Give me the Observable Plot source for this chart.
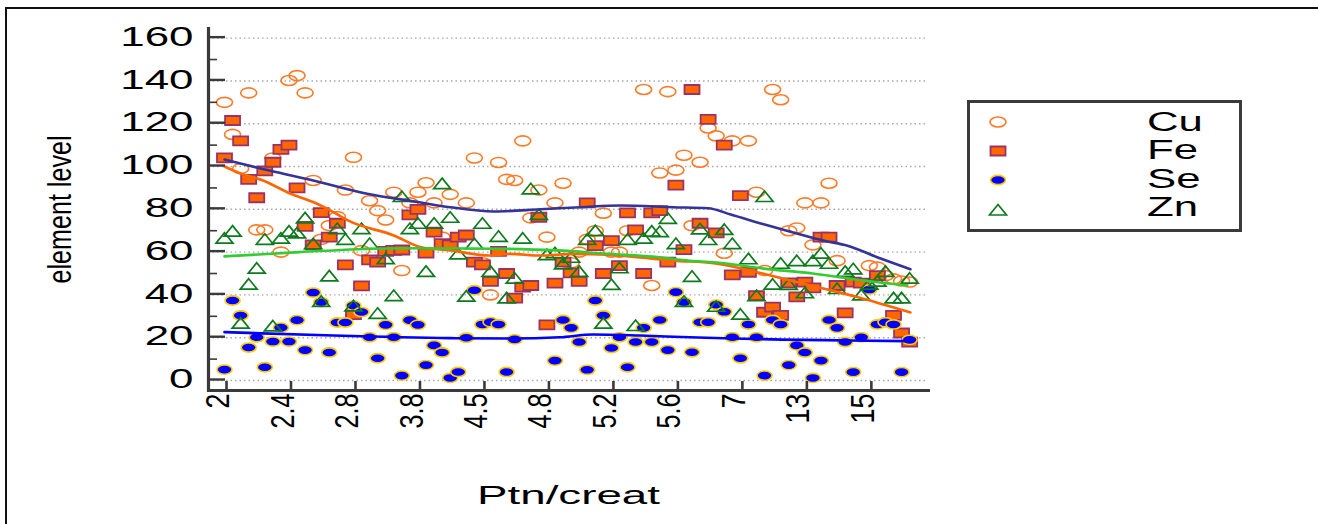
<!DOCTYPE html>
<html><head><meta charset="utf-8">
<script src="https://cdn.jsdelivr.net/npm/d3@7"></script>
<script src="https://cdn.jsdelivr.net/npm/@observablehq/plot@0.6"></script>
<style>
html,body{margin:0;background:#fff;overflow:hidden}
#wrap{position:relative;width:1318px;height:524px;font-family:"Liberation Sans",Arial,sans-serif}
#frame{position:absolute;left:5px;top:7px;width:1320px;height:530px;border:2px solid #111;box-sizing:border-box}
#legend{position:absolute;left:967px;top:100px;width:275px;height:132px;border:3.5px solid #3a3a3a;box-sizing:border-box;background:#fff}
#legend svg{position:absolute;left:0;top:0}
#legend div{position:absolute;left:177px;font-size:27px;line-height:30px;transform:scaleX(1.62);transform-origin:left center;color:#000}
svg{overflow:visible}
</style></head><body><div id="wrap"><div id="frame"></div><div id="chart" style="position:absolute;left:0;top:0"></div>
<div id="legend"></div></div>
<script>
const xTickPos=[0.25,8.25,16.25,24.25,32.25,40.25,48.25,56.25,64.25,72.25,80.25];
const xTickLabels=["2","2.4","2.8","3.8","4.5","4.8","5.2","5.6","7","13","15"];
const yMajor=[0,20,40,60,80,100,120,140,160];
const yMinor=[10,30,50,70,90,110,130,150];

const cuI=[0,1,2,3,4,5,6,7,8,9,10,11,12,13,14,15,16,17,18,19,20,21,22,23,24,25,26,27,28,30,31,32,33,34,35,36,37,38,39,40,41,42,43,44,45,46,47,48,49,50,52,53,54,55,56,57,58,59,60,61,62,63,65,66,67,68,69,70,71,72,73,74,75,76,80,81,82,83,84,85];
const cuV=[130,115,99,134.4,70.4,70.4,104,60,140.2,142.5,134.4,93.5,66,72.4,76.6,89,104.3,60.7,84,79.4,75,88,51.4,83,88,92.4,83,67,87,83,104,55,40,101.9,94,93.5,112,76,89,67,83,92.2,55,60,66,70,78.2,60,60,70,136,44.4,97,135,98.3,105.3,72.4,102,118,114.3,59.5,112,112,88,51.4,136,131.2,70,71.3,83,63.4,83,92.2,56,53.7,53,49,47.5,46.5,46];

const feI=[0,1,2,3,4,5,6,7,8,9,10,11,12,13,14,15,16,17,18,19,20,21,22,23,24,25,26,27,28,29,30,31,32,33,34,35,36,37,38,39,40,41,42,43,44,45,46,47,48,49,50,51,52,53,54,55,56,57,58,59,60,61,62,63,64,65,66,67,68,69,70,71,72,73,74,75,76,77,78,79,81,83,84,85];
const feV=[104,121.5,112,94,85.4,98,102,108,110,90,72,63.4,78.5,67,73.5,54,30.8,44.2,56.4,55.3,60.3,60.8,61,77.4,80,59.5,69.3,64,63.4,67,68,55.3,54,46.3,60.3,50,38.5,43.6,44.4,76.3,26,45.5,55.3,50.3,46.3,83,63,50,65.4,53.7,78.3,70.4,50,78.3,79.4,55.3,91.3,61.2,136,73.5,122,69,110,49.4,86.4,50.6,39.7,31.9,34.3,30.4,45.6,39.1,46,43.3,67,67,44.4,31.6,46,45.5,49,30.4,22.2,17.9];

const seI=[0,1,2,3,4,5,6,7,8,9,10,11,12,13,14,15,16,17,18,19,20,21,22,23,24,25,26,27,28,29,30,31,32,33,34,35,36,41,42,43,44,45,46,47,48,49,50,51,52,53,54,55,56,57,58,59,60,61,62,63,64,65,66,67,68,69,70,71,72,73,74,75,76,77,78,79,80,81,82,83,84,85];
const seV=[5.1,37.4,30.4,15.4,20.2,6.2,18.2,24.7,18.2,28.2,14.2,41.1,36.6,13.1,27.1,27.1,35,32,20.2,10.4,26,20.2,2.3,28.2,26,7.2,16.4,13.1,1.2,4,20,42.2,26.2,27.3,26.2,4,19.2,9.3,28.3,24.6,18,5,37.4,30.4,15.2,20.2,6.2,18,24.6,18,28.3,14.2,41.3,36.6,13.2,27.2,27.2,35.4,32.1,20.2,10.4,26.2,20.2,2.3,28.3,26.2,7.2,16.4,13.1,1.2,9.3,28.3,24.6,18,3.9,20.2,42.5,26.2,27.2,26.2,3.9,19];

const znI=[0,1,2,3,4,5,6,7,8,9,10,11,12,13,14,15,16,17,18,19,20,21,22,23,24,25,26,27,28,29,30,31,32,33,34,35,36,37,38,39,40,41,42,43,44,45,46,47,48,49,50,51,52,53,54,55,56,57,58,59,60,61,62,63,64,65,66,67,68,69,70,71,72,73,74,75,76,77,78,79,80,81,82,83,84,85];
const znV=[66.5,69.8,26.8,45,52.5,66,25.5,66.5,69.8,69,76,63.9,37,48.9,71,66,34.9,71,64,31.4,57,39.7,86,71,73.5,51,73.5,92,76.3,59.2,39.4,63.9,73.5,51,67.4,38.6,47.8,66.5,89.6,77.6,58.8,59.7,54.5,57.6,51,66,70,26.8,44.9,52.7,66,25.7,66.5,69.8,69.6,75.8,64,37,48.7,70.9,65.9,34.7,70.6,64,31,56.9,39.7,86,45,54.8,44.9,56,41,56,59.5,54.8,43,51,52.2,40,45,46.4,51,38.6,38.6,47.8];

const cuFitI=[0,5.7,11,17.7,24,28,33.4,39.2,44.2,49.1,55.7,60,62.8,66.9,71,74.3,77.3,81.4,85.1];
const cuFitV=[103.3,98,93.5,87.3,83.4,81,79,80,81,81.8,81,80.5,77.6,73,68.7,65.4,63,57,52];
const feFitI=[0,2,4.8,8.2,11,13.5,15.3,21,24.4,28,32.9,35.4,39.2,43.3,47.5,51.6,55.7,60.7,66.1,70.2,74.3,78.5,82.2,85.1];
const feFitV=[100,96.7,93.5,87.3,83.4,78.7,74.8,67.8,62.3,60.8,58.4,59.2,58.4,59.2,58.8,57.5,56,54.8,50.6,46.7,43,39,35,31.8];
const seFitI=[0,13.5,28,35.4,41.6,45.7,51.6,57.7,77.3,84.7];
const seFitV=[22.6,21,19.8,19.6,20.2,21.5,21,20.2,18.7,18.4];
const znFitI=[0,9.3,21.8,30.9,41.3,47.5,53.7,57.7,60.7,66.9,73,79.3,84.7];
const znFitV=[58,60,61.8,61.7,60.8,59.2,57.7,56,55.3,52.3,50,46.7,44.4];

const rows=(I,V)=>I.map((i,k)=>({i,v:V[k]}));
const W=8,H=5;
const ellipseSym={draw(c){const k=.5523;c.moveTo(W,0);c.bezierCurveTo(W,k*H,k*W,H,0,H);c.bezierCurveTo(-k*W,H,-W,k*H,-W,0);c.bezierCurveTo(-W,-k*H,-k*W,-H,0,-H);c.bezierCurveTo(k*W,-H,W,-k*H,W,0);c.closePath();}};
const seSym={draw(c){const w=7.5,h=4.6,k=.5523;c.moveTo(w,0);c.bezierCurveTo(w,k*h,k*w,h,0,h);c.bezierCurveTo(-k*w,h,-w,k*h,-w,0);c.bezierCurveTo(-w,-k*h,-k*w,-h,0,-h);c.bezierCurveTo(k*w,-h,w,-k*h,w,0);c.closePath();}};
const rectSym={draw(c){c.moveTo(-7.5,-4.5);c.lineTo(7.5,-4.5);c.lineTo(7.5,4.5);c.lineTo(-7.5,4.5);c.closePath();}};
const triSym={draw(c){c.moveTo(0,-5.5);c.lineTo(8.5,5);c.lineTo(-8.5,5);c.closePath();}};

const cu="#FF7A26",feF="#FF6600",feS="#993366",seF="#0000FF",seS="#FFCC00",zn="#0E7A1E";
const dark="#3a3a3a";

const plot=Plot.plot({
  width:1318,height:524,
  marginLeft:208,marginRight:390,marginTop:28,marginBottom:134,
  style:{background:"transparent",fontFamily:"'Liberation Sans',Arial,sans-serif",overflow:"visible"},
  x:{type:"linear",domain:[-1.985,87.34],label:null},
  y:{type:"linear",domain:[-4.67,164.5],label:null},
  marks:[
    Plot.gridY(yMajor,{stroke:"#a8a8a8",strokeOpacity:1,strokeWidth:1.4,strokeDasharray:"1.5,3"}),
    Plot.dot(rows(cuI,cuV),{x:"i",y:"v",symbol:ellipseSym,stroke:cu,strokeWidth:1.6,fill:"none"}),
    Plot.dot(rows(feI,feV),{x:"i",y:"v",symbol:rectSym,fill:feF,stroke:feS,strokeWidth:1.8}),
    Plot.dot(rows(seI,seV),{x:"i",y:"v",symbol:seSym,fill:seF,stroke:seS,strokeWidth:1.6}),
    Plot.dot(rows(znI,znV),{x:"i",y:"v",symbol:triSym,fill:"none",stroke:zn,strokeWidth:1.7}),
    Plot.line(rows(cuFitI,cuFitV),{x:"i",y:"v",stroke:"#333399",strokeWidth:2.6,curve:"monotone-x"}),
    Plot.line(rows(feFitI,feFitV),{x:"i",y:"v",stroke:"#FF6600",strokeWidth:2.6,curve:"monotone-x"}),
    Plot.line(rows(seFitI,seFitV),{x:"i",y:"v",stroke:"#0000FF",strokeWidth:2.6,curve:"monotone-x"}),
    Plot.line(rows(znFitI,znFitV),{x:"i",y:"v",stroke:"#33CC33",strokeWidth:2.6,curve:"monotone-x"}),
    Plot.axisY(yMajor,{anchor:"left",tickSize:-17,tickPadding:32,stroke:dark,strokeWidth:2.4,fontSize:27,fill:"#000",label:null,className:"ylab",dy:-1}),
    Plot.axisY(yMinor,{anchor:"left",tickSize:-9,tickFormat:()=>"",stroke:dark,strokeWidth:1.6,label:null}),
    Plot.axisX(xTickPos,{anchor:"bottom",tickSize:0,tickPadding:3,tickRotate:-90,stroke:"none",fontSize:33,fill:"#000",label:null,tickFormat:d=>xTickLabels[xTickPos.indexOf(d)],className:"xlab",dx:-8}),
    Plot.axisX(xTickPos,{anchor:"bottom",tickSize:-9,tickFormat:()=>"",stroke:dark,strokeWidth:2.6,label:null}),
    Plot.frame({anchor:"left",stroke:dark,strokeWidth:3.2}),
    Plot.frame({anchor:"bottom",stroke:dark,strokeWidth:3}),
    Plot.text(["Ptn/creat"],{frameAnchor:"bottom",dy:113,fontSize:26,fill:"#000",className:"xttl"}),
    Plot.text(["element level"],{frameAnchor:"left",textAnchor:"middle",rotate:-90,dx:-148,dy:0,fontSize:34,fill:"#000",className:"yttl"})
  ]
});
document.getElementById("chart").appendChild(plot);

const stretch=(sel,len)=>plot.querySelectorAll(sel+" text").forEach(t=>{const s=String(t.textContent);const L=typeof len==="function"?len(s):len;t.setAttribute("textLength",L);t.setAttribute("lengthAdjust","spacingAndGlyphs");});
stretch(".ylab",s=>s.length*24.4);
stretch(".xlab",s=>s.replace(".","").length*15+(s.includes(".")?5:0));
stretch(".xttl",183);
stretch(".yttl",148);

const legendItems=["Cu","Fe","Se","Zn"];
const lg=d3.select("#legend");
const svg=lg.append("svg").attr("width",270).attr("height",127);
const sy=[19,48,77,107];
const mk=(sym,i,attrs)=>{const p=d3.path();sym.draw(p);const e=svg.append("path").attr("d",p.toString()).attr("transform",`translate(28,${sy[i]})`);Object.entries(attrs).forEach(([k,v])=>e.attr(k,v));};
mk(ellipseSym,0,{fill:"none",stroke:cu,"stroke-width":1.6});
mk(rectSym,1,{fill:feF,stroke:feS,"stroke-width":1.8});
mk(seSym,2,{fill:seF,stroke:seS,"stroke-width":1.6});
mk(triSym,3,{fill:"none",stroke:zn,"stroke-width":1.7});
const ty=[-15,-16,-16,-18];
legendItems.forEach((t,i)=>lg.append("div").style("top",(sy[i]+ty[i])+"px").text(t));
</script></body></html>
